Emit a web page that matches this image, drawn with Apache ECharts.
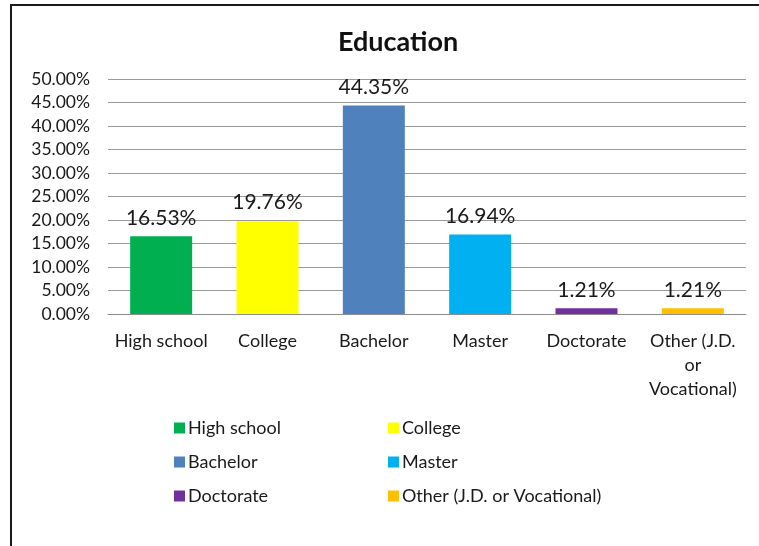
<!DOCTYPE html>
<html>
<head>
<meta charset="utf-8">
<script src="https://cdn.jsdelivr.net/npm/echarts@6/dist/echarts.min.js"></script>
<style>
  html, body { margin: 0; padding: 0; background: #fff; }
  #chart { width: 759px; height: 546px; }
</style>
</head>
<body>
<div id="chart"></div>
<script>
// Education levels and their shares (percent)
const categories = ['High school', 'College', 'Bachelor', 'Master', 'Doctorate', 'Other (J.D. or Vocational)'];
const axisLabels = ['High school', 'College', 'Bachelor', 'Master', 'Doctorate', 'Other (J.D.\nor\nVocational)'];
const shares = [16.53, 19.76, 44.35, 16.94, 1.21, 1.21];
const colors = ['#00B050', '#FFFF00', '#4F81BD', '#00B0F0', '#7030A0', '#FFC000'];

const FONT = 'Lato, "Open Sans", sans-serif';
const TEXT = '#1a1a1a';
const chart = echarts.init(document.getElementById('chart'));

// one series per category so each gets its own legend entry
const series = categories.map((name, i) => ({
  name: name,
  type: 'bar',
  stack: 'all',
  barWidth: 62,
  itemStyle: { color: colors[i] },
  label: {
    show: true,
    position: 'top',
    distance: 8,
    fontFamily: FONT,
    fontSize: 21,
    color: TEXT,
    formatter: p => p.value.toFixed(2) + '%'
  },
  data: shares.map((v, j) => (j === i ? v : '-'))
}));

const legendText = { fontFamily: FONT, fontSize: 18, color: TEXT, lineHeight: 20, padding: [0, 0, 0, -2] };

chart.setOption({
  animation: false,
  backgroundColor: '#fff',
  title: {
    text: 'Education',
    left: 393,
    textAlign: 'center',
    top: 24,
    textStyle: { fontFamily: FONT, fontSize: 27, fontWeight: 'bold', color: '#111' }
  },
  grid: { left: 108, right: 13, top: 79, height: 235 },
  xAxis: {
    type: 'category',
    data: axisLabels,
    axisLine: { lineStyle: { color: '#8c8c8c', width: 1 } },
    axisTick: { show: false },
    axisLabel: {
      fontFamily: FONT, fontSize: 18, color: TEXT,
      margin: 15, lineHeight: 24, interval: 0
    }
  },
  yAxis: {
    type: 'value',
    min: 0, max: 50, interval: 5,
    axisLine: { show: false },
    axisTick: { show: false },
    splitLine: { lineStyle: { color: '#9a9a9a', width: 1 } },
    axisLabel: {
      fontFamily: FONT, fontSize: 17.5, color: TEXT, margin: 18,
      formatter: v => v.toFixed(2) + '%'
    }
  },
  legend: [
    {
      orient: 'vertical', left: 169, top: 413,
      data: categories.filter((_, i) => i % 2 === 0),
      icon: 'rect', itemWidth: 11, itemHeight: 11, itemGap: 14,
      textStyle: legendText
    },
    {
      orient: 'vertical', left: 383, top: 413,
      data: categories.filter((_, i) => i % 2 === 1),
      icon: 'rect', itemWidth: 11, itemHeight: 11, itemGap: 14,
      textStyle: legendText
    }
  ],
  graphic: [
    { type: 'line', shape: { x1: 10, y1: 5, x2: 759, y2: 5 }, style: { stroke: '#1a1a1a', lineWidth: 2 } },
    { type: 'line', shape: { x1: 11, y1: 5, x2: 11, y2: 546 }, style: { stroke: '#1a1a1a', lineWidth: 2 } }
  ],
  series: series
});
</script>
</body>
</html>
